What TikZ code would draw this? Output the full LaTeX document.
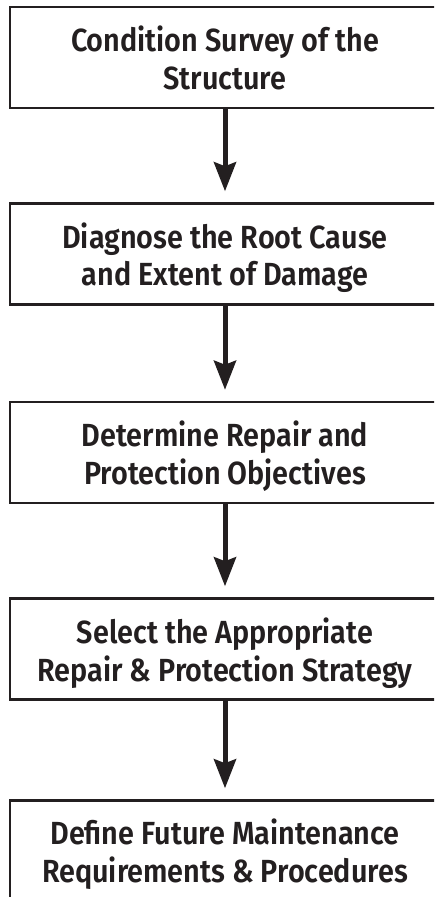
\documentclass[tikz,border=0pt]{standalone}
\usepackage{fontspec}
\setmainfont{Fira Sans SemiBold}[FakeStretch=0.9]
\usetikzlibrary{arrows.meta}
\definecolor{ink}{RGB}{35,31,32}
\begin{document}
\begin{tikzpicture}[x=1pt,y=-1pt,
  stepbox/.style={draw=ink,line width=2.5pt,minimum width=430pt,minimum height=101pt,inner sep=0pt},
  steptext/.style={text=ink,align=center,inner sep=0pt,anchor=base,font=\fontsize{32}{37.5}\selectfont},
  flow/.style={draw=ink,line width=5pt,-{Stealth[length=29pt,width=22pt,inset=4pt]},shorten >=11pt}]
\clip (0,0) rectangle (434,897);
\fill[white] (0,0) rectangle (434,897);
\node[stepbox] (b1) at (225,57.5) {};
\node[stepbox] (b2) at (225,254) {};
\node[stepbox] (b3) at (225,452.5) {};
\node[stepbox] (b4) at (225,649) {};
\node[stepbox] (b5) at (225,851) {};
\node[steptext] (t1) at (225,89) {Condition Survey of the\\Structure};
\node[steptext] (t2) at (225,285.5) {Diagnose the Root Cause\\and Extent of Damage};
\node[steptext] (t3) at (225,484) {Determine Repair and\\Protection Objectives};
\node[steptext] (t4) at (225,681) {Select the Appropriate\\Repair \& Protection Strategy};
\node[steptext] (t5) at (225,882) {Define Future Maintenance\\Requirements \& Procedures};
\draw[flow] (b1.south) -- (b2.north);
\draw[flow] (b2.south) -- (b3.north);
\draw[flow] (b3.south) -- (b4.north);
\draw[flow] (b4.south) -- (b5.north);
\end{tikzpicture}
\end{document}
